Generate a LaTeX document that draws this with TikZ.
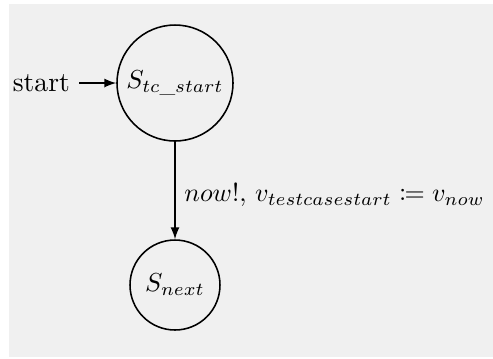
\documentclass[tikz,border=0pt]{standalone}
\usepackage{amsmath}
\usepackage{amssymb}
\usepackage{mathtools}
\usetikzlibrary{arrows,positioning,calc}
\tikzset{>=latex}
\definecolor{bggray}{RGB}{240,240,240}
\tikzset{state/.style={draw,circle,inner sep=0pt,line width=0.6pt,font=\fontsize{10.2}{12}\selectfont}}

\begin{document}
\begin{tikzpicture}[x=0.0135cm,y=-0.0135cm,font=\fontsize{10.6}{13}\selectfont]
\useasboundingbox (0,0) rectangle (493,358);
\fill[bggray] (9,4) rectangle (493,357);
\node[state,minimum size=1.566cm] (tcs) at (175,83) {$S_{tc\_start}$};
\node[state,minimum size=1.215cm] (nxt) at (175,285) {$S_{next}$};
\node[anchor=east] (init) at (79,83) {start};
\begin{scope}[line width = 0.6pt]
\draw[->,color=black] (init) to (tcs);
\draw[->,color=black] (tcs) to node[right,pos=0.55,font=\fontsize{9.8}{12}\selectfont] (lbl)
  {$now!,\, v_{testcasestart} \coloneqq v_{now}$} (nxt);
\end{scope}
%\draw[help lines] (0,0) grid (493,358) ;
\end{tikzpicture}
\end{document}
